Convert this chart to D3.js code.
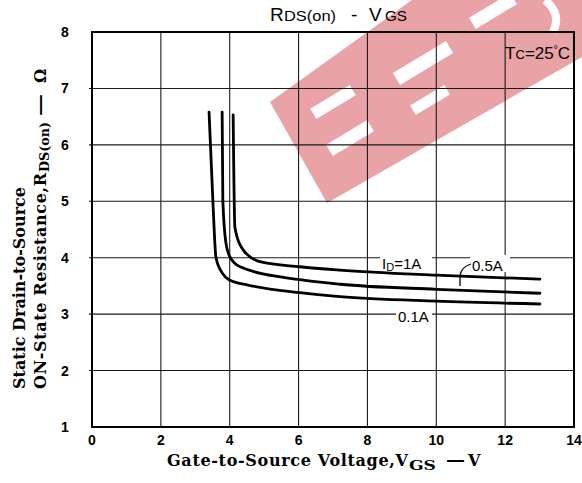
<!DOCTYPE html>
<html><head><meta charset="utf-8">
<script src="https://cdn.jsdelivr.net/npm/d3@7"></script>
<style>
html,body{margin:0;padding:0;background:#fff;}
svg{display:block;}
</style></head>
<body>
<svg id="chart" width="582" height="483"></svg>
<script>
// ---- data ----
const xTickValues = [0, 2, 4, 6, 8, 10, 12, 14];
const yTickValues = [1, 2, 3, 4, 5, 6, 7, 8];
const seriesNames = ["0.1A", "0.5A", "1A"];
// Vgs (V) and Rds(on) (ohm) per drain current
const vgs01 = [3.40, 3.51, 3.60, 3.78, 4.01, 4.50, 6.04, 7.20, 10.0, 13.01];
const rds01 = [6.58, 5.02, 4.01, 3.73, 3.60, 3.52, 3.38, 3.31, 3.23, 3.18];
const vgs05 = [3.78, 3.80, 3.89, 4.01, 4.30, 6.04, 7.20, 10.0, 13.01];
const rds05 = [6.58, 5.02, 4.26, 4.01, 3.84, 3.61, 3.53, 3.44, 3.37];
const vgs1  = [4.10, 4.15, 4.39, 4.88, 6.04, 7.20, 10.0, 13.01];
const rds1  = [6.53, 4.54, 4.14, 3.93, 3.84, 3.78, 3.69, 3.62];

const svg = d3.select("#chart");
const W = 582, H = 483;
const plot = {left: 92, right: 574, top: 32, bottom: 427};
const x = d3.scaleLinear().domain([0, 14]).range([plot.left, plot.right]);
const y = d3.scaleLinear().domain([1, 8]).range([plot.bottom, plot.top]);

svg.append("rect").attr("width", W).attr("height", H).attr("fill", "#fff");

// ---- watermark (decoration) ----
const wm = svg.append("g");
wm.append("polygon")
  .attr("points", "270,102 327,203 582,57 582,0 412,0")
  .attr("fill", "#e9a2a6");
const cut = [[333,102,46,12],[350,138,48,13],[430,100,40,11],[423,63,62,14],[493,11,48,13]];
cut.forEach(c => {
  wm.append("rect").attr("x", c[0]-c[2]/2).attr("y", c[1]-c[3]/2)
    .attr("width", c[2]).attr("height", c[3]).attr("fill", "#fff")
    .attr("transform", `rotate(-31 ${c[0]} ${c[1]})`);
});
wm.append("path").attr("d", "M545,0 Q562,14 553,32").attr("fill", "none")
  .attr("stroke", "#fff").attr("stroke-width", 8);

// ---- grid ----
const grid = svg.append("g").attr("stroke", "#1a1a1a").attr("stroke-width", 1.1);
xTickValues.slice(1, -1).forEach(v => {
  grid.append("line").attr("x1", x(v)).attr("x2", x(v)).attr("y1", plot.top).attr("y2", plot.bottom);
});
yTickValues.slice(1, -1).forEach(v => {
  grid.append("line").attr("x1", plot.left - 3).attr("x2", plot.right).attr("y1", y(v)).attr("y2", y(v));
});
svg.append("rect").attr("x", plot.left).attr("y", plot.top)
  .attr("width", plot.right - plot.left).attr("height", plot.bottom - plot.top)
  .attr("fill", "none").attr("stroke", "#000").attr("stroke-width", 2);

// ---- tick labels ----
const tickFont = "'Liberation Sans', Arial, sans-serif";
svg.append("g").selectAll("text").data(xTickValues).join("text")
  .attr("x", d => x(d)).attr("y", 445).attr("text-anchor", "middle")
  .attr("font-family", tickFont).attr("font-weight", "bold").attr("font-size", 14)
  .text(d => d);
svg.append("g").selectAll("text").data(yTickValues).join("text")
  .attr("x", 65).attr("y", d => y(d)).attr("dy", "0.36em").attr("text-anchor", "middle")
  .attr("font-family", tickFont).attr("font-weight", "bold").attr("font-size", 14)
  .text(d => d);

// ---- curves ----
const line = d3.line().x(d => x(d[0])).y(d => y(d[1])).curve(d3.curveMonotoneX);
const series = [d3.zip(vgs01, rds01), d3.zip(vgs05, rds05), d3.zip(vgs1, rds1)];
svg.append("g").selectAll("path").data(series).join("path")
  .attr("d", line).attr("fill", "none").attr("stroke", "#000")
  .attr("stroke-width", 2.8).attr("stroke-linecap", "round");

// ---- curve labels ----
const lblFont = "'Liberation Sans', Arial, sans-serif";
function bgRect(x0, y0, w, h){ svg.append("rect").attr("x", x0).attr("y", y0).attr("width", w).attr("height", h).attr("fill", "#fff"); }
bgRect(380, 253, 52, 17);
const t1 = svg.append("text").attr("x", 382).attr("y", 269).attr("font-family", lblFont).attr("font-size", 15);
t1.append("tspan").text("I");
t1.append("tspan").attr("font-size", 11).attr("dy", 2).text("D");
t1.append("tspan").attr("dy", -2).text("=1A");
bgRect(470, 255, 40, 17);
svg.append("text").attr("x", 472).attr("y", 271).attr("font-family", lblFont).attr("font-size", 15).text("0.5A");
svg.append("path").attr("d", `M460,${y(3.50)} L460,276 Q461,267 471,264`).attr("fill", "none")
  .attr("stroke", "#000").attr("stroke-width", 1.3);
bgRect(396, 306, 36, 17);
svg.append("text").attr("x", 398).attr("y", 322).attr("font-family", lblFont).attr("font-size", 15).text("0.1A");

// Tc label
const tc = svg.append("text").attr("x", 570).attr("y", 59).attr("text-anchor", "end")
  .attr("font-family", lblFont).attr("font-size", 17);
tc.append("tspan").text("T");
tc.append("tspan").attr("font-size", 13).text("C");
tc.append("tspan").text("=25");
tc.append("tspan").attr("font-size", 10).attr("dy", -6).text("°");
tc.append("tspan").attr("dy", 6).text("C");

// ---- title ----
const title = svg.append("text").attr("y", 21)
  .attr("font-family", lblFont).attr("font-size", 19);
title.append("tspan").attr("x", 270).text("R");
title.append("tspan").attr("x", 284).attr("font-size", 14).attr("textLength", 52).attr("lengthAdjust", "spacingAndGlyphs").text("DS(on)");
title.append("tspan").attr("x", 351).text("-");
title.append("tspan").attr("x", 369).text("V");
title.append("tspan").attr("x", 385).attr("font-size", 14).attr("textLength", 22).attr("lengthAdjust", "spacingAndGlyphs").text("GS");

// ---- axis titles ----
const serif = "'DejaVu Serif', 'Liberation Serif', serif";
const xt = svg.append("text").attr("y", 466)
  .attr("font-family", serif).attr("font-weight", "bold").attr("font-size", 16);
xt.append("tspan").attr("x", 167).attr("textLength", 241).attr("lengthAdjust", "spacing").text("Gate-to-Source Voltage,V");
xt.append("tspan").attr("x", 409).attr("font-size", 13).attr("dy", 4).attr("textLength", 27).attr("lengthAdjust", "spacingAndGlyphs").text("GS");
xt.append("tspan").attr("x", 446).attr("dy", -4).attr("textLength", 19).attr("lengthAdjust", "spacingAndGlyphs").text("—");
xt.append("tspan").attr("x", 468).text("V");

const yt1 = svg.append("text").attr("transform", "translate(25,389) rotate(-90)")
  .attr("font-family", serif).attr("font-weight", "bold").attr("font-size", 16)
  .text("Static Drain-to-Source");
const yt2 = svg.append("g").attr("transform", "translate(46,389) rotate(-90)")
  .append("text").attr("font-family", serif).attr("font-weight", "bold").attr("font-size", 16);
yt2.append("tspan").attr("x", 0).attr("textLength", 216).attr("lengthAdjust", "spacing").text("ON-State Resistance,R");
yt2.append("tspan").attr("x", 217).attr("font-size", 13).attr("dy", 3).attr("textLength", 50).attr("lengthAdjust", "spacingAndGlyphs").text("DS(on)");
yt2.append("tspan").attr("x", 273).attr("dy", -3).attr("textLength", 22).attr("lengthAdjust", "spacingAndGlyphs").text("—");
yt2.append("tspan").attr("x", 306).text("Ω");
</script>
</body></html>
